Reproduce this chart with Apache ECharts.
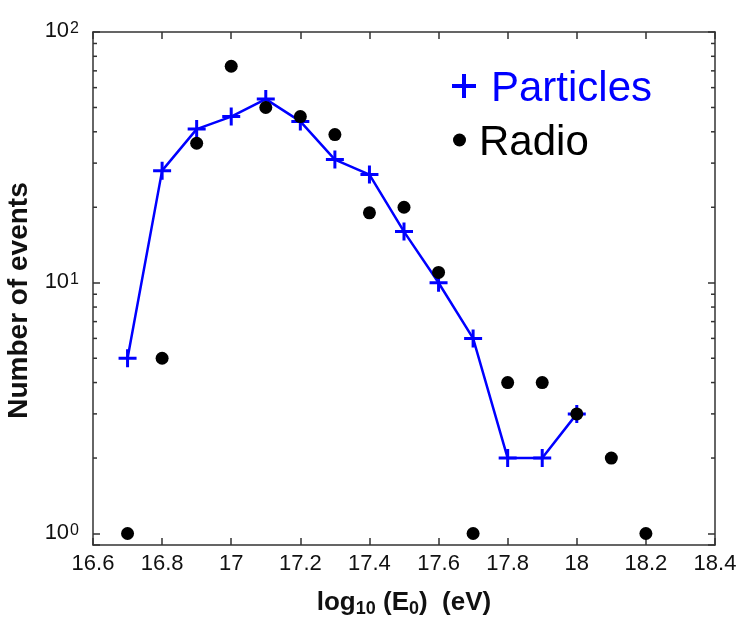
<!DOCTYPE html>
<html>
<head>
<meta charset="utf-8">
<script src="https://cdn.jsdelivr.net/npm/echarts@6/dist/echarts.min.js"></script>
<style>
  html, body { margin: 0; padding: 0; background: #fff; }
  #chart { width: 738px; height: 619px; }
</style>
</head>
<body>
<div id="chart"></div>
<script>
// Energy bins: log10(E0 / eV)
const energyBins = [16.7, 16.8, 16.9, 17.0, 17.1, 17.2, 17.3, 17.4, 17.5, 17.6, 17.7, 17.8, 17.9, 18.0, 18.1, 18.2];
// Events per bin from the particle detector reconstruction (16.7 .. 18.0)
const particleCounts = [5, 28, 41, 46, 54, 44, 31, 27, 16, 10, 6, 2, 2, 3];
// Events per bin from the radio reconstruction (16.7 .. 18.2)
const radioCounts = [1, 5, 36, 73, 50, 46, 39, 19, 20, 11, 1, 4, 4, 3, 2, 1];
// Axis settings
const xTickValues = [16.6, 16.8, 17.0, 17.2, 17.4, 17.6, 17.8, 18.0, 18.2, 18.4];
const yDecades = [1, 10, 100];
const yMinorValues = [2, 3, 4, 5, 6, 7, 8, 9, 20, 30, 40, 50, 60, 70, 80, 90];

const X_MIN = xTickValues[0], X_MAX = xTickValues[xTickValues.length - 1];
const Y_MIN = 0.9, Y_MAX = yDecades[yDecades.length - 1];

const particleData = particleCounts.map((v, i) => [energyBins[i], v]);
const radioData = radioCounts.map((v, i) => [energyBins[i], v]);

const FONT = '"Liberation Sans", Arial, sans-serif';
const AXIS_COLOR = '#333';
const PLUS = 'path://M7.5,0H10.5V7.5H18V10.5H10.5V18H7.5V10.5H0V7.5H7.5Z';
// legend glyphs sit slightly above the text centre: the trailing empty move
// extends the icon box downward without drawing anything
const PLUS_LEGEND = 'path://M10,0H14V10H24V14H14V24H10V14H0V10H10ZM12,30';
const DOT_LEGEND = 'path://M6.5,0A6.5,6.5,0,1,1,6.5,13A6.5,6.5,0,1,1,6.5,0ZM6.5,19';

function decadeLabel(v) {
  const e = Math.round(Math.log10(v));
  if (Math.abs(v - Math.pow(10, e)) > 1e-6 * Math.pow(10, e)) return '';
  return '{b|10}{s|' + e + '}';
}

const chart = echarts.init(document.getElementById('chart'), null, { renderer: 'canvas' });

const xCommon = {
  type: 'value', min: X_MIN, max: X_MAX, interval: 0.2,
  axisLine: { show: true, onZero: false, lineStyle: { color: AXIS_COLOR, width: 1.5 } },
  axisTick: { show: true, inside: true, length: 7, lineStyle: { color: AXIS_COLOR, width: 1.5 } },
  splitLine: { show: false }
};
const yCommon = {
  type: 'log', logBase: 10, min: Y_MIN, max: Y_MAX,
  axisLine: { show: true, onZero: false, lineStyle: { color: AXIS_COLOR, width: 1.5 } },
  axisTick: { show: true, inside: true, length: 7, lineStyle: { color: AXIS_COLOR, width: 1.5 } },
  splitLine: { show: false }
};

chart.setOption({
  animation: false,
  backgroundColor: '#fff',
  textStyle: { fontFamily: FONT },
  grid: { left: 93, right: 23, top: 32, bottom: 74, outerBoundsMode: 'none', containLabel: false },
  legend: [
    {
      data: [{ name: 'Particles', icon: PLUS_LEGEND }],
      left: 452, top: 68, padding: 0,
      itemWidth: 24, itemHeight: 30,
      selectedMode: false,
      lineStyle: { opacity: 0 },
      textStyle: { fontSize: 42, color: '#0000ff', fontFamily: FONT, padding: [0, 0, 0, 10] }
    },
    {
      data: [{ name: 'Radio', icon: DOT_LEGEND }],
      left: 453, top: 122, padding: 0,
      itemWidth: 13, itemHeight: 19,
      selectedMode: false,
      textStyle: { fontSize: 42, color: '#000', fontFamily: FONT, padding: [0, 0, 0, 8] }
    }
  ],
  xAxis: [
    Object.assign({}, xCommon, {
      position: 'bottom',
      name: '{a|log}{s|10}{a| (E}{s|0}{a|)  (eV)}',
      nameLocation: 'middle', nameGap: 33,
      nameTextStyle: {
        rich: {
          a: { fontSize: 26, fontWeight: 'bold', color: '#111', lineHeight: 28, verticalAlign: 'top', fontFamily: FONT },
          s: { fontSize: 18, fontWeight: 'bold', color: '#111', lineHeight: 18, padding: [20, 0, 0, 0], verticalAlign: 'bottom', fontFamily: FONT }
        }
      },
      axisLabel: {
        show: true, margin: 8, fontSize: 22, color: '#111', fontFamily: FONT,
        formatter: v => String(+v.toFixed(1))
      }
    }),
    Object.assign({}, xCommon, { position: 'top', axisLabel: { show: false } })
  ],
  yAxis: [
    Object.assign({}, yCommon, {
      position: 'left',
      name: 'Number of events',
      nameLocation: 'middle', nameGap: 48, nameRotate: 90,
      nameTextStyle: { fontSize: 28, fontWeight: 'bold', color: '#111', fontFamily: FONT, padding: [0, 24, 0, 0] },
      axisLabel: {
        show: true, margin: 14, fontSize: 22, color: '#111', fontFamily: FONT,
        formatter: decadeLabel,
        rich: {
          b: { fontSize: 22, color: '#111', lineHeight: 22, padding: [6, 0, 8, 0], fontFamily: FONT },
          s: { fontSize: 16, color: '#111', lineHeight: 16, verticalAlign: 'top', padding: [0, 0, 0, 1], fontFamily: FONT }
        }
      }
    }),
    Object.assign({}, yCommon, { position: 'right', axisLabel: { show: false } })
  ],
  series: [
    {
      // minor log ticks on the left and right frame edges
      type: 'custom',
      silent: true,
      clip: false,
      z: 1,
      data: yMinorValues.map(v => [X_MIN, v]),
      renderItem: function (params, api) {
        const v = api.value(1);
        const pl = api.coord([X_MIN, v]);
        const pr = api.coord([X_MAX, v]);
        const st = { stroke: AXIS_COLOR, lineWidth: 1.5 };
        return {
          type: 'group',
          children: [
            { type: 'line', shape: { x1: pl[0], y1: pl[1], x2: pl[0] + 4, y2: pl[1] }, style: st },
            { type: 'line', shape: { x1: pr[0] - 4, y1: pr[1], x2: pr[0], y2: pr[1] }, style: st }
          ]
        };
      }
    },
    {
      name: 'Particles',
      type: 'line',
      data: particleData,
      symbol: PLUS,
      symbolSize: 18,
      showAllSymbol: true,
      lineStyle: { color: '#0000ff', width: 2.5 },
      itemStyle: { color: '#0000ff' },
      z: 3
    },
    {
      name: 'Radio',
      type: 'scatter',
      data: radioData,
      symbol: 'circle',
      symbolSize: 13,
      itemStyle: { color: '#000', opacity: 1 },
      z: 4
    }
  ]
});
</script>
</body>
</html>
